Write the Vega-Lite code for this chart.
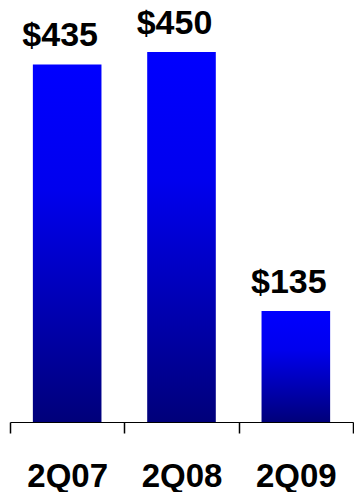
{
  "$schema": "https://vega.github.io/schema/vega-lite/v6.json",
  "autosize": "none",
  "width": 343,
  "height": 411,
  "padding": {"left": 10, "top": 11, "right": 1, "bottom": 70},
  "background": "white",
  "config": {"view": {"stroke": null}, "font": "Liberation Sans"},
  "data": {"values": [
    {"period": "2Q07", "value": 435, "label": "$435"},
    {"period": "2Q08", "value": 450, "label": "$450"},
    {"period": "2Q09", "value": 135, "label": "$135"}
  ]},
  "encoding": {
    "x": {"field": "period", "type": "nominal", "sort": null,
      "scale": {"paddingInner": 0, "paddingOuter": 0},
      "axis": {"title": null, "labelAngle": 0, "tickBand": "extent", "domainColor": "#000000", "tickColor": "#000000", "domainWidth": 1, "tickWidth": 1.5, "tickSize": 11, "labelPadding": 27, "labelFont": "Liberation Sans", "labelFontSize": 33, "labelFontWeight": "bold", "labelColor": "#000000"}},
    "y": {"field": "value", "type": "quantitative", "scale": {"domain": [0, 500]}, "axis": null}
  },
  "layer": [
    {"mark": {"type": "bar", "width": {"band": 0.6}, "color": {"gradient": "linear", "x1": 0, "y1": 0, "x2": 0, "y2": 1,
      "stops": [{"offset": 0, "color": "#0000ff"}, {"offset": 0.35, "color": "#0000ee"}, {"offset": 1, "color": "#00007a"}]}}},
    {"mark": {"type": "text", "baseline": "bottom", "dy": -11, "dx": -7, "font": "Liberation Sans", "fontSize": 34, "fontWeight": "bold", "color": "#000000"},
     "encoding": {"text": {"field": "label"}}}
  ]
}
